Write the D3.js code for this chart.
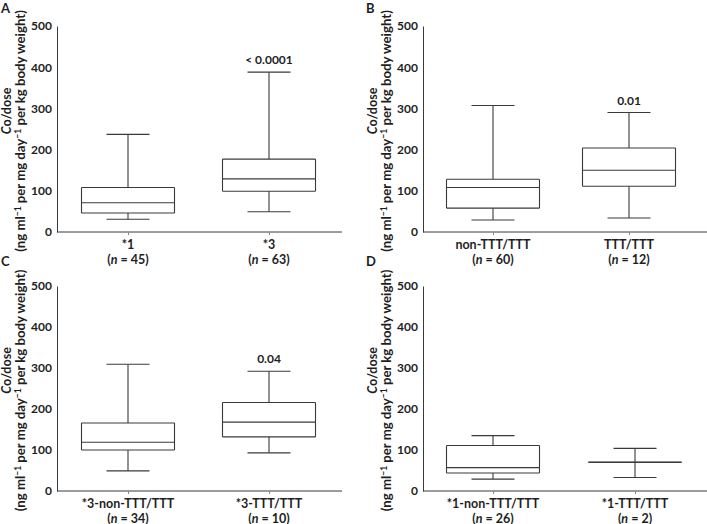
<!DOCTYPE html>
<html><head><meta charset="utf-8">
<script src="https://cdn.jsdelivr.net/npm/d3@7"></script>
<style>
body{margin:0;background:#fff}
svg text{font-family:"Lato","Open Sans",sans-serif !important;font-weight:700 !important;fill:#1e1e1e}
</style>
</head><body><svg id="c" width="707" height="524"></svg>
<script>
// ---- data ----
const panelLetters = ["A", "B", "C", "D"];
const categoryLabels = [
  ["*1", "*3"],
  ["non-TTT/TTT", "TTT/TTT"],
  ["*3-non-TTT/TTT", "*3-TTT/TTT"],
  ["*1-non-TTT/TTT", "*1-TTT/TTT"]
];
const sampleSizes = [[45, 63], [60, 12], [34, 10], [26, 2]];
const whiskerLow  = [[31, 49], [29, 34], [49, 93], [29, 33]];
const q1Values    = [[46, 99], [58, 111], [100, 132], [44, 70]];
const medians     = [[71, 129], [108, 150], [119, 168], [57, 70]];
const q3Values    = [[108, 177], [128, 204], [166, 216], [111, 70]];
const whiskerHigh = [[237, 388], [307, 290], [309, 292], [135, 104]];
const pValues = ["< 0.0001", "0.01", "0.04", ""];
const yTicks = [0, 100, 200, 300, 400, 500];
const yDomain = [0, 500];

// ---- layout ----
const layout = [
  {ax: 57,  xEnd: 342, yTop: 26,  yBot: 232, c: [128, 269], lx: 1,   ly: 13},
  {ax: 423, xEnd: 707, yTop: 26,  yBot: 232, c: [493, 629], lx: 366, ly: 13},
  {ax: 57,  xEnd: 342, yTop: 286, yBot: 491, c: [128, 269], lx: 1,   ly: 266},
  {ax: 423, xEnd: 707, yTop: 286, yBot: 491, c: [493, 635], lx: 366, ly: 266}
];
const boxW = 93, capW = 43;
const lineColor = "#3a3a3a";
const fs = 12.5;

const svg = d3.select("#c");

panelLetters.forEach((letter, i) => {
  const L = layout[i];
  const y = d3.scaleLinear().domain(yDomain).range([L.yBot, L.yTop]);
  const x = d3.scalePoint().domain(categoryLabels[i]).range(L.c);
  const g = svg.append("g");

  // panel letter
  g.append("text").attr("x", L.lx).attr("y", L.ly).attr("font-size", 13).text(letter);

  // y axis
  const ya = g.append("g").attr("transform", `translate(${L.ax},0)`)
    .call(d3.axisLeft(y).tickValues(yTicks).tickSize(0).tickSizeOuter(0).tickPadding(5));
  ya.select(".domain").attr("stroke", lineColor).attr("stroke-width", 1);
  ya.selectAll("text").attr("font-size", 12).attr("fill", "#1e1e1e");

  // x axis line
  g.append("line").attr("x1", L.ax).attr("x2", L.xEnd)
    .attr("y1", y(0)).attr("y2", y(0)).attr("stroke", lineColor);
  const xa = g.append("g").attr("transform", `translate(0,${y(0)})`)
    .call(d3.axisBottom(x).tickSize(3).tickFormat(""));
  xa.select(".domain").remove();
  xa.selectAll("line").attr("stroke", "#888");

  // category labels
  categoryLabels[i].forEach((cat, j) => {
    const cx = x(cat);
    g.append("text").attr("x", cx).attr("y", y(0) + 17).attr("text-anchor", "middle")
      .attr("font-size", fs).text(cat);
    const t = g.append("text").attr("x", cx).attr("y", y(0) + 31.5).attr("text-anchor", "middle")
      .attr("font-size", fs);
    t.append("tspan").text("(");
    t.append("tspan").attr("font-style", "italic").text("n");
    t.append("tspan").text(" = " + sampleSizes[i][j] + ")");

    // box plot
    const lo = y(whiskerLow[i][j]), hi = y(whiskerHigh[i][j]);
    const b1 = y(q1Values[i][j]), b3 = y(q3Values[i][j]), md = y(medians[i][j]);
    const ln = (x1, y1, x2, y2) => g.append("line")
      .attr("x1", x1).attr("y1", y1).attr("x2", x2).attr("y2", y2)
      .attr("stroke", lineColor).attr("stroke-width", 1.1);
    // whiskers
    ln(cx, hi, cx, b3);
    ln(cx, b1, cx, lo);
    ln(cx - capW / 2, hi, cx + capW / 2, hi);
    ln(cx - capW / 2, lo, cx + capW / 2, lo);
    // box
    ln(cx - boxW / 2, b3, cx + boxW / 2, b3);
    ln(cx - boxW / 2, b1, cx + boxW / 2, b1);
    ln(cx - boxW / 2, b3, cx - boxW / 2, b1);
    ln(cx + boxW / 2, b3, cx + boxW / 2, b1);
    ln(cx - boxW / 2, md, cx + boxW / 2, md);

    if (j === 1 && pValues[i]) {
      g.append("text").attr("x", cx).attr("y", hi - 8).attr("text-anchor", "middle")
        .attr("font-size", 12).text(pValues[i]);
    }
  });

  // y-axis title (two lines, rotated): "Co/dose" outer, units inner
  const cy = (L.yTop + L.yBot) / 2;
  const t1 = g.append("text").attr("transform", `translate(${L.ax - 46},${cy - 18}) rotate(-90)`)
    .attr("text-anchor", "middle").attr("font-size", 12.5);
  t1.append("tspan").attr("font-style", "italic").text("C");
  t1.append("tspan").text("o/dose");
  const t2 = g.append("text").attr("transform", `translate(${L.ax - 32},${cy + 2}) rotate(-90)`)
    .attr("text-anchor", "middle").attr("font-size", 13.2);
  t2.append("tspan").text("(ng ml");
  t2.append("tspan").attr("dy", -4).attr("font-size", 8.5).text("\u22121");
  t2.append("tspan").attr("dy", 4).text(" per mg day");
  t2.append("tspan").attr("dy", -4).attr("font-size", 8.5).text("\u22121");
  t2.append("tspan").attr("dy", 4).text(" per kg body weight)");
});
</script></body></html>
